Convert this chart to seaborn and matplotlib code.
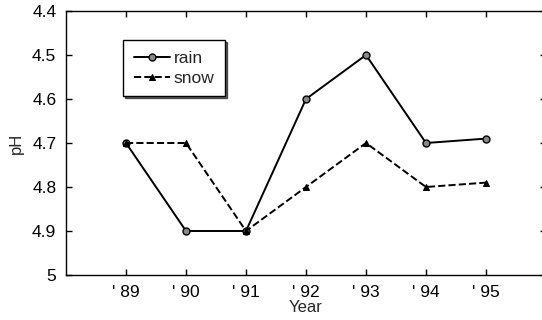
import matplotlib
matplotlib.use("Agg")
import matplotlib.pyplot as plt
import seaborn as sns
import pandas as pd
from matplotlib.ticker import FormatStrFormatter

years = [89, 90, 91, 92, 93, 94, 95]
year_labels = ["' 89", "' 90", "' 91", "' 92", "' 93", "' 94", "' 95"]
rain = [4.7, 4.9, 4.9, 4.6, 4.5, 4.7, 4.69]
snow = [4.7, 4.7, 4.9, 4.8, 4.7, 4.8, 4.79]
y_ticks = [4.4, 4.5, 4.6, 4.7, 4.8, 4.9, 5.0]

sns.set_style("ticks")
plt.rcParams["font.family"] = ["Liberation Sans", "DejaVu Sans"]
plt.rcParams["font.size"] = 12.5

df_rain = pd.DataFrame({"year": years, "pH": rain})
df_snow = pd.DataFrame({"year": years, "pH": snow})

fig = plt.figure(figsize=(5.42, 3.2), dpi=100)
ax = fig.add_axes([66 / 542, 45 / 320, 480 / 542, 264 / 320])

sns.lineplot(data=df_rain, x="year", y="pH", ax=ax, color="black", lw=1.4,
             marker="o", markersize=5, markerfacecolor="#888888",
             markeredgecolor="black", markeredgewidth=1.0, label="rain")
sns.lineplot(data=df_snow, x="year", y="pH", ax=ax, color="black", lw=1.4,
             linestyle="--", dashes=(3, 2.5), marker="^", markersize=4.5,
             markerfacecolor="black", markeredgecolor="black", label="snow")

ax.set_xlim(88, 96)
ax.set_ylim(5.0, 4.4)
ax.set_xticks(years)
ax.set_xticklabels(year_labels)
ax.set_yticks(y_ticks)
ax.yaxis.set_major_formatter(FormatStrFormatter("%g"))
ax.tick_params(direction="in", top=True, right=True, length=4, width=1,
               labelsize=12.5, colors="black", pad=7)
ax.set_xlabel("Year", labelpad=0, fontsize=12)
ax.set_ylabel("pH", labelpad=6, fontsize=12)
for s in ax.spines.values():
    s.set_linewidth(1.0)
    s.set_color("black")

leg = ax.legend(loc="upper left", bbox_to_anchor=(0.119, 0.89),
                borderaxespad=0, frameon=True, fancybox=False,
                shadow={"ox": 1.5, "oy": -1.5, "color": "black", "alpha": 0.6},
                edgecolor="black", handlelength=2.1, handletextpad=0.2,
                borderpad=0.6, labelspacing=0.3, fontsize=12.5)
leg.get_frame().set_linewidth(1.0)

fig.savefig("out.png", dpi=100)
